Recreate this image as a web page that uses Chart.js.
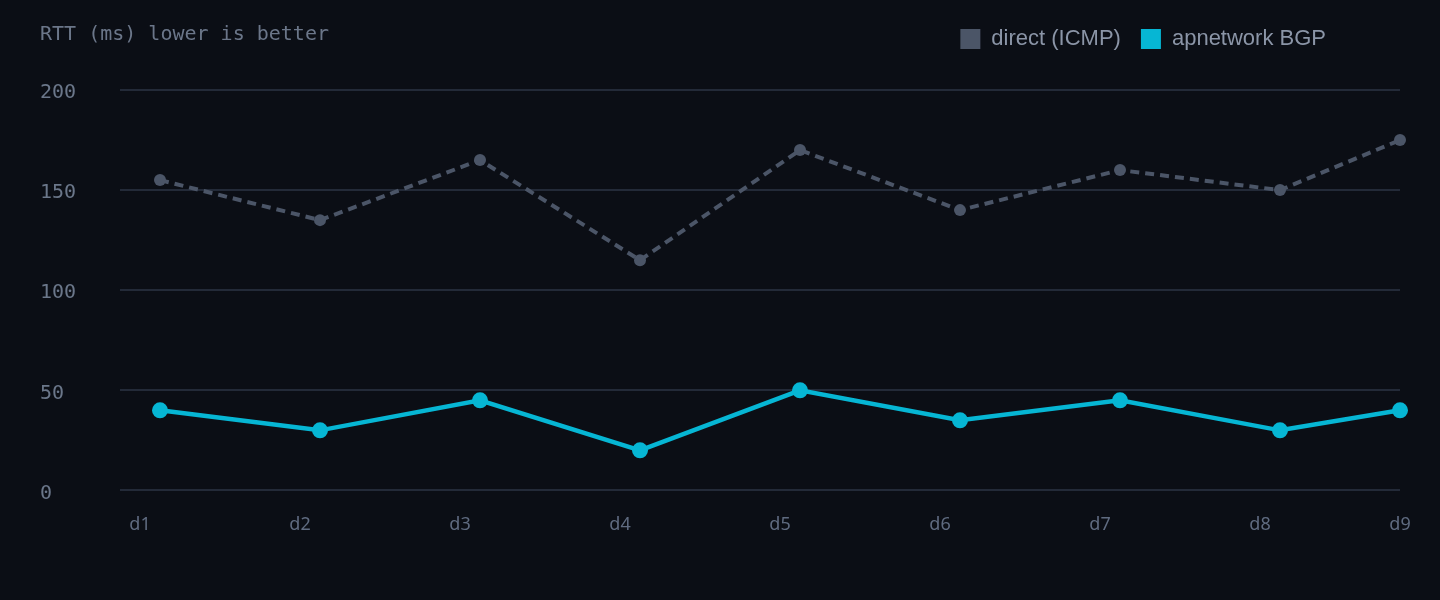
<!DOCTYPE html>
<html>
<head>
<meta charset="utf-8">
<script src="https://cdn.jsdelivr.net/npm/chart.js@4"></script>
<style>
  html, body { margin: 0; padding: 0; background: #0b0e15; }
  #wrap { position: relative; width: 1440px; height: 600px; }
  #title {
    position: absolute; left: 40px; top: 20px;
    font: 20px "DejaVu Sans Mono", monospace; color: #6b7689;
    line-height: 26px; white-space: pre;
  }
</style>
</head>
<body>
<div id="wrap">
  <canvas id="rtt" width="1440" height="600"></canvas>
  <div id="title">RTT (ms) lower is better</div>
</div>
<script>
(() => {
    const categories = ['d1', 'd2', 'd3', 'd4', 'd5', 'd6', 'd7', 'd8', 'd9'];
    const directValues = [155, 135, 165, 115, 170, 140, 160, 150, 175];
    const bgpValues = [40, 30, 45, 20, 50, 35, 45, 30, 40];
    const yTicks = [0, 50, 100, 150, 200];

    const monoFont = '"DejaVu Sans Mono", monospace';
    const toPoints = vals => vals.map((v, i) => ({ x: i, y: v }));

    // 最後一點貼齊圖表右邊界
    const clampRight = {
        id: 'clampRight',
        afterDatasetsUpdate(chart) {
            const right = chart.chartArea.right;
            chart.data.datasets.forEach((ds, i) => {
                chart.getDatasetMeta(i).data.forEach(p => {
                    if (p.x > right) p.x = right;
                });
            });
        }
    };

    // 圖例高度固定 + 往左移一點
    const legendBox = {
        id: 'legendBox',
        beforeInit(chart) {
            const fit = chart.legend.fit;
            chart.legend.fit = function () {
                fit.bind(chart.legend)();
                this.height = 82;
            };
        },
        afterLayout(chart) {
            chart.legend.right -= 54;
        }
    };

    new Chart(document.getElementById('rtt'), {
        type: 'line',
        data: {
            datasets: [{
                label: 'direct (ICMP)',
                data: toPoints(directValues),
                borderColor: '#4b5567',
                backgroundColor: '#4b5567',
                borderWidth: 4,
                borderDash: [9, 6],
                pointRadius: 6,
                pointBorderWidth: 0,
                clip: false
            }, {
                label: 'apnetwork BGP',
                data: toPoints(bgpValues),
                borderColor: '#06b6d4',
                backgroundColor: '#06b6d4',
                borderWidth: 4.5,
                pointRadius: 8,
                pointBorderWidth: 0,
                clip: false
            }]
        },
        options: {
            responsive: false,
            animation: false,
            layout: { padding: { left: 40, right: 40, top: 8, bottom: 40 } },
            plugins: {
                legend: {
                    position: 'top',
                    align: 'end',
                    labels: {
                        boxWidth: 20,
                        boxHeight: 20,
                        padding: 20,
                        color: '#8b95a7',
                        font: { family: '"Liberation Sans", Arial, sans-serif', size: 22 },
                        generateLabels: chart => Chart.defaults.plugins.legend.labels.generateLabels(chart)
                            .map(item => Object.assign(item, { lineDash: [], lineWidth: 0 }))
                    }
                },
                tooltip: { enabled: false }
            },
            scales: {
                x: {
                    type: 'linear',
                    min: -0.25,
                    max: 7.75,
                    grid: { display: false, drawTicks: false },
                    border: { display: false },
                    afterBuildTicks: scale => {
                        scale.ticks = categories.map((c, i) => ({ value: Math.min(i - 0.125, scale.max) }));
                    },
                    ticks: {
                        autoSkip: false,
                        maxRotation: 0,
                        padding: 24,
                        color: '#5f6b80',
                        font: { family: '"Noto Sans", sans-serif', size: 18 },
                        callback: (v, idx) => categories[idx]
                    }
                },
                y: {
                    min: 0,
                    max: 200,
                    afterBuildTicks: scale => {
                        scale.ticks = yTicks.map(v => ({ value: v }));
                    },
                    afterFit: scale => { scale.width = 80; },
                    grid: { color: '#232a38', lineWidth: 2, drawTicks: false },
                    border: { display: false },
                    ticks: {
                        crossAlign: 'far',
                        padding: 10,
                        labelOffset: 3,
                        color: '#6b778a',
                        font: { family: monoFont, size: 20 }
                    }
                }
            }
        },
        plugins: [clampRight, legendBox]
    });
})();
</script>
</body>
</html>
